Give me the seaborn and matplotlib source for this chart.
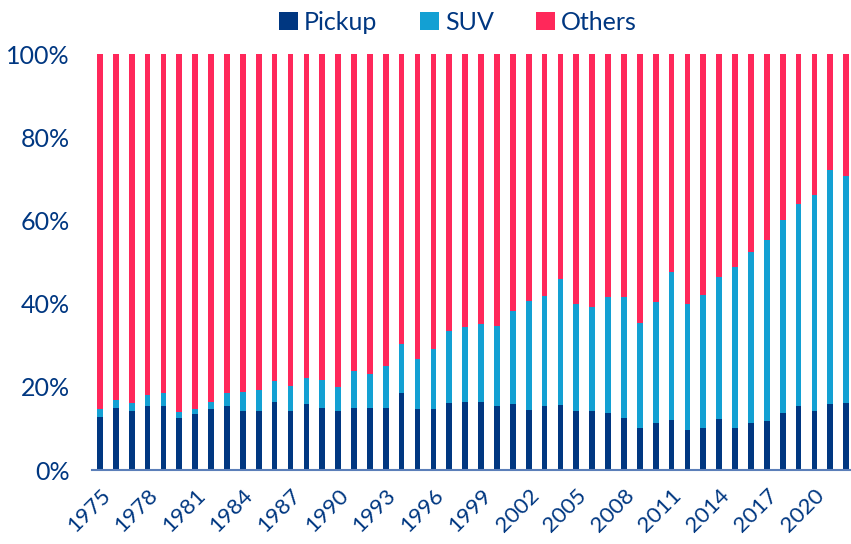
import matplotlib
matplotlib.use("Agg")
import matplotlib.pyplot as plt
import seaborn as sns
import pandas as pd
import numpy as np

years = list(range(1975, 2023))
pickup = [12.8, 14.8, 14.1, 15.5, 15.5, 12.5, 13.4, 14.6, 15.5, 14.3, 14.1, 16.3, 14.1, 15.8, 15.0, 14.3,
          15.0, 14.8, 14.8, 18.6, 14.7, 14.6, 16.2, 16.4, 16.4, 15.5, 15.8, 14.5, 15.4, 15.6, 14.1, 14.1,
          13.6, 12.6, 10.2, 11.2, 11.9, 9.7, 10.0, 12.2, 10.2, 11.4, 11.8, 13.6, 15.3, 14.1, 15.8, 16.0]
pickup_plus_suv = [14.7, 16.9, 16.0, 18.0, 18.5, 14.0, 14.7, 16.3, 18.4, 18.8, 19.3, 21.3, 20.1, 22.2, 21.7, 19.9,
                   23.7, 23.1, 24.9, 30.2, 26.8, 29.1, 33.3, 34.4, 35.2, 34.5, 38.2, 40.6, 41.9, 45.8, 40.0, 39.1,
                   41.5, 41.5, 35.4, 40.4, 47.7, 40.0, 42.0, 46.4, 48.8, 52.3, 55.3, 60.1, 63.9, 66.1, 72.2, 70.6]
total = [100.0] * len(years)
tick_years = list(range(1975, 2021, 3))

c_pickup = "#003781"
c_suv = "#13A0D3"
c_others = "#FF285A"
c_text = "#003781"

df = pd.DataFrame({"year": [str(y) for y in years],
                   "pickup": np.array(pickup) / 100,
                   "suv_cum": np.array(pickup_plus_suv) / 100,
                   "total": np.array(total) / 100})

sns.set_theme(style="white")
plt.rcParams["font.family"] = ["Lato", "DejaVu Sans"]

fig = plt.figure(figsize=(8.51, 5.44), dpi=100)
ax = fig.add_axes([92 / 851, 74 / 544, 759 / 851, 416 / 544])

w = 0.36
sns.barplot(data=df, x="year", y="total", color=c_others, width=w, ax=ax, saturation=1, label="Others", edgecolor="none")
sns.barplot(data=df, x="year", y="suv_cum", color=c_suv, width=w, ax=ax, saturation=1, label="SUV", edgecolor="none")
sns.barplot(data=df, x="year", y="pickup", color=c_pickup, width=w, ax=ax, saturation=1, label="Pickup", edgecolor="none")

handles, labels = ax.get_legend_handles_labels()
if ax.get_legend() is not None:
    ax.get_legend().remove()

ax.set_xlim(-0.5, 47.3)
ax.set_ylim(0, 1)
ax.set_xlabel("")
ax.set_ylabel("")
ax.set_yticks([0, 0.2, 0.4, 0.6, 0.8, 1.0])
ax.set_yticklabels(["0%", "20%", "40%", "60%", "80%", "100%"], color=c_text, fontsize=18)
ticks = [years.index(y) for y in tick_years]
ax.set_xticks(ticks)
ax.set_xticklabels([str(y) for y in tick_years], rotation=45, ha="right", rotation_mode="anchor",
                   color=c_text, fontsize=16)
ax.tick_params(axis="both", length=0)
ax.tick_params(axis="y", pad=16)
ax.tick_params(axis="x", pad=11)
for s in ["top", "right", "left"]:
    ax.spines[s].set_visible(False)
ax.spines["bottom"].set_color("#5b7fb9")
ax.spines["bottom"].set_linewidth(1.5)
ax.grid(False)

order = [labels.index("Pickup"), labels.index("SUV"), labels.index("Others")]
leg = fig.legend([handles[i] for i in order], [labels[i] for i in order],
                 loc="center", bbox_to_anchor=(458 / 851, 1 - 22 / 544), ncol=3, frameon=False,
                 fontsize=18, handlelength=0.75, handleheight=0.75, handletextpad=0.25, columnspacing=1.7)
for t in leg.get_texts():
    t.set_color(c_text)

fig.savefig("out.png", dpi=100)
